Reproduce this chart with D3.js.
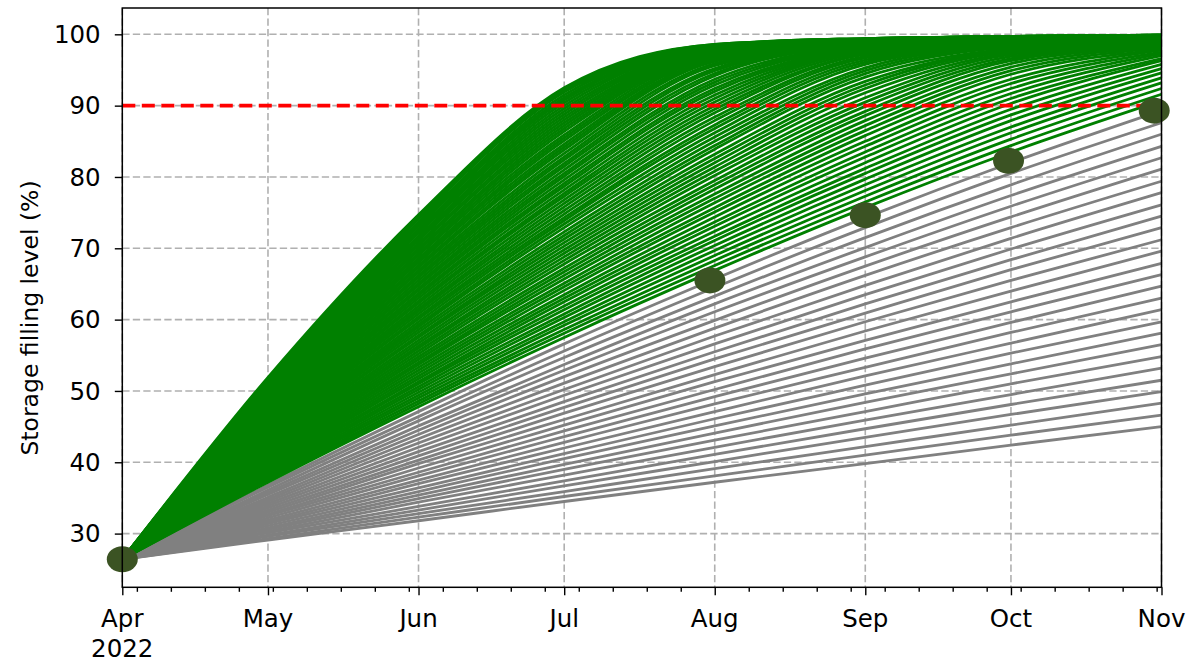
<!DOCTYPE html>
<html><head><meta charset="utf-8">
<script src="https://cdn.jsdelivr.net/npm/d3@7"></script>
<style>body{margin:0;background:#fff} svg{display:block} text{font-family:"DejaVu Sans",sans-serif;fill:#000}</style>
</head><body><svg id="c" width="1190" height="661"></svg>
<script>
// ---- data (storage filling level in %) ----
const monthDates = ["2022-04-01","2022-05-01","2022-06-01","2022-07-01","2022-08-01","2022-09-01","2022-10-01","2022-11-01"];
const monthLabels = ["Apr","May","Jun","Jul","Aug","Sep","Oct","Nov"];
const startLevel = 26.4;
// scenarios that stay below the target on 1 Nov (grey)
const greyMay = [29.1,29.3,29.6,29.8,30.1,30.3,30.6,30.8,31.1,31.4,31.6,31.9,32.2,32.5,32.7,33.0,33.3,33.6,33.9,34.2,34.5,34.8,35.1,35.5,35.8,36.1,36.5,36.8];
const greyJun = [31.8,32.3,32.8,33.3,33.8,34.4,34.9,35.4,35.9,36.4,37.0,37.5,38.1,38.6,39.2,39.8,40.3,40.9,41.5,42.1,42.7,43.3,43.9,44.5,45.1,45.8,46.4,47.1];
const greyJul = [34.5,35.2,35.9,36.7,37.4,38.2,39.0,39.7,40.5,41.2,42.0,42.8,43.6,44.4,45.2,46.0,46.9,47.7,48.5,49.4,50.2,51.1,52.0,52.9,53.7,54.7,55.6,56.6];
const greyAug = [37.2,38.1,39.1,40.1,41.1,42.1,43.1,44.1,45.1,46.1,47.1,48.2,49.2,50.2,51.3,52.3,53.4,54.5,55.5,56.6,57.7,58.8,59.9,61.1,62.2,63.3,64.5,65.7];
const greySep = [39.8,41.0,42.2,43.5,44.7,45.9,47.1,48.4,49.6,50.8,52.1,53.3,54.6,55.9,57.1,58.4,59.7,60.9,62.2,63.5,64.8,66.2,67.5,68.8,70.1,71.5,72.9,74.3];
const greyOct = [42.4,43.8,45.2,46.7,48.1,49.5,51.0,52.4,53.8,55.3,56.7,58.2,59.6,61.1,62.5,64.0,65.5,67.0,68.4,69.9,71.4,72.9,74.4,75.9,77.4,78.9,80.5,82.0];
const greyNov = [45.0,46.6,48.3,49.9,51.5,53.2,54.8,56.5,58.1,59.7,61.4,63.0,64.7,66.3,67.9,69.6,71.2,72.9,74.5,76.1,77.8,79.4,81.1,82.7,84.3,86.0,87.6,89.3];
// scenarios that reach the target by 1 Nov (green)
const greenMay = [37.2,37.4,37.6,37.8,38.0,38.2,38.4,38.6,38.8,39.0,39.2,39.4,39.6,39.8,40.0,40.2,40.4,40.6,40.9,41.1,41.3,41.5,41.7,41.9,42.1,42.3,42.5,42.7,42.9,43.1,43.3,43.5,43.7,43.9,44.1,44.3,44.5,44.7,44.9,45.1,45.3,45.5,45.7,45.9,46.1,46.3,46.5,46.7,46.9,47.1,47.3,47.5,47.7,47.9,48.1,48.3,48.4,48.6,48.8,49.0,49.2,49.4,49.6,49.8,50.0,50.2,50.4,50.6,50.8,51.0,51.2,51.4,51.5,51.7,51.9];
const greenJun = [47.8,48.2,48.6,49.0,49.4,49.8,50.2,50.6,51.0,51.3,51.7,52.1,52.5,52.9,53.3,53.7,54.0,54.4,54.8,55.2,55.6,56.0,56.3,56.7,57.1,57.5,57.8,58.2,58.6,59.0,59.3,59.7,60.1,60.4,60.8,61.2,61.5,61.9,62.3,62.6,63.0,63.4,63.7,64.1,64.4,64.8,65.1,65.5,65.9,66.2,66.6,66.9,67.3,67.6,68.0,68.3,68.6,69.0,69.3,69.7,70.0,70.4,70.7,71.1,71.4,71.7,72.1,72.4,72.7,73.1,73.4,73.7,74.1,74.4,74.7];
const greenJul = [57.5,58.1,58.6,59.2,59.7,60.3,60.8,61.4,61.9,62.5,63.0,63.5,64.1,64.6,65.1,65.7,66.2,66.7,67.2,67.8,68.3,68.8,69.3,69.8,70.3,70.8,71.3,71.8,72.3,72.9,73.4,73.9,74.3,74.8,75.3,75.8,76.3,76.8,77.3,77.7,78.2,78.7,79.1,79.6,80.1,80.5,81.0,81.5,81.9,82.4,82.8,83.3,83.8,84.2,84.6,85.1,85.5,85.9,86.4,86.8,87.2,87.6,88.0,88.4,88.8,89.2,89.6,90.0,90.4,90.8,91.1,91.5,91.9,92.2,92.5];
const greenAug = [66.9,67.6,68.3,69.0,69.7,70.4,71.1,71.7,72.4,73.1,73.7,74.4,75.1,75.7,76.4,77.0,77.6,78.3,78.9,79.5,80.2,80.8,81.4,82.0,82.6,83.2,83.9,84.4,85.0,85.6,86.2,86.8,87.3,87.9,88.4,89.0,89.5,90.0,90.5,91.0,91.5,92.0,92.4,92.9,93.3,93.7,94.2,94.5,94.9,95.2,95.6,95.9,96.2,96.4,96.6,96.8,97.0,97.2,97.3,97.5,97.6,97.7,97.8,97.9,98.0,98.1,98.2,98.3,98.3,98.4,98.4,98.5,98.5,98.6,98.6];
const greenSep = [75.7,76.5,77.3,78.1,78.9,79.7,80.5,81.2,82.0,82.8,83.5,84.3,85.0,85.8,86.5,87.2,87.9,88.6,89.2,89.9,90.5,91.1,91.8,92.4,92.9,93.4,94.0,94.5,94.9,95.3,95.8,96.1,96.4,96.7,96.9,97.2,97.3,97.5,97.7,97.8,97.9,98.0,98.1,98.2,98.3,98.4,98.5,98.5,98.6,98.7,98.7,98.8,98.8,98.9,98.9,98.9,99.0,99.0,99.0,99.1,99.1,99.1,99.2,99.2,99.2,99.2,99.3,99.3,99.3,99.3,99.3,99.4,99.4,99.4,99.4];
const greenOct = [83.5,84.4,85.3,86.2,87.0,87.9,88.7,89.5,90.3,91.0,91.7,92.4,93.1,93.7,94.4,94.9,95.4,95.9,96.3,96.6,96.9,97.2,97.4,97.6,97.8,97.9,98.0,98.2,98.3,98.4,98.5,98.5,98.6,98.7,98.7,98.8,98.9,98.9,99.0,99.0,99.0,99.1,99.1,99.1,99.2,99.2,99.2,99.3,99.3,99.3,99.3,99.4,99.4,99.4,99.4,99.5,99.5,99.5,99.5,99.5,99.5,99.6,99.6,99.6,99.6,99.6,99.6,99.7,99.7,99.7,99.7,99.7,99.7,99.7,99.7];
const greenNov = [90.7,91.6,92.4,93.2,93.9,94.6,95.2,95.8,96.3,96.6,97.0,97.3,97.5,97.8,97.9,98.1,98.2,98.3,98.4,98.5,98.6,98.7,98.8,98.8,98.9,99.0,99.0,99.0,99.1,99.1,99.2,99.2,99.2,99.3,99.3,99.3,99.4,99.4,99.4,99.4,99.5,99.5,99.5,99.5,99.5,99.6,99.6,99.6,99.6,99.6,99.7,99.7,99.7,99.7,99.7,99.7,99.7,99.8,99.8,99.8,99.8,99.8,99.8,99.8,99.8,99.8,99.8,99.8,99.9,99.9,99.9,99.9,99.9,99.9,99.9];
// observed filling levels
const markerDates = ["2022-04-01T00:00","2022-07-31T00:00","2022-09-01T00:00","2022-09-30T12:00","2022-10-30T12:00"];
const markerValues = [26.4, 65.5, 74.65, 82.27, 89.3];
const targetLevel = 90;
const yTicks = [30,40,50,60,70,80,90,100];

// ---- drawing ----
const svg = d3.select("#c");
const L = 122.3, R = 1161.5, T = 8, B = 587.3;
const parseDay = d3.utcParse("%Y-%m-%d");
const parseTime = d3.utcParse("%Y-%m-%dT%H:%M");
const start = parseDay(monthDates[0]), end = parseDay(monthDates[monthDates.length-1]);
const x = d3.scaleUtc().domain([start,end]).range([L,R]);
const y = d3.scaleLinear().domain([22.47,103.69]).range([B,T]);

svg.append("defs").append("clipPath").attr("id","clip").append("rect")
  .attr("x",L).attr("y",T).attr("width",R-L).attr("height",B-T);

const months = monthDates.map(parseDay);
const mondays = d3.utcMonday.range(start, end).filter(d => d.getUTCDate() !== 1);

// grid
const g = svg.append("g");
g.selectAll(".vg").data(months).join("line")
  .attr("x1",d=>x(d)).attr("x2",d=>x(d)).attr("y1",T).attr("y2",B)
  .attr("stroke","#b0b0b0").attr("stroke-width",1.6).attr("stroke-dasharray","7.3,3.2");
g.selectAll(".hg").data(yTicks).join("line")
  .attr("x1",L).attr("x2",R).attr("y1",d=>y(d)).attr("y2",d=>y(d))
  .attr("stroke","#b0b0b0").attr("stroke-width",1.6).attr("stroke-dasharray","7.3,3.2");

// scenario lines
const lineGen = d3.line().x(d=>x(d[0])).y(d=>y(d[1])).curve(d3.curveMonotoneX);
function series(cols, i){ return months.map((d,k)=>[d, k===0 ? startLevel : cols[k-1][i]]); }
const greyCols = [greyMay,greyJun,greyJul,greyAug,greySep,greyOct,greyNov];
const greenCols = [greenMay,greenJun,greenJul,greenAug,greenSep,greenOct,greenNov];
const lg = svg.append("g").attr("clip-path","url(#clip)");
lg.selectAll("path.grey").data(greyNov.map((_,i)=>series(greyCols,i))).join("path")
  .attr("class","grey").attr("d",lineGen).attr("fill","none").attr("stroke","#808080").attr("stroke-width",2.8);
lg.selectAll("path.green").data(greenNov.map((_,i)=>series(greenCols,i))).join("path")
  .attr("class","green").attr("d",lineGen).attr("fill","none").attr("stroke","#008000").attr("stroke-width",2.8);

// target line
svg.append("line").attr("x1",L).attr("x2",R).attr("y1",y(targetLevel)).attr("y2",y(targetLevel))
  .attr("stroke","#ff0000").attr("stroke-width",3.6).attr("stroke-dasharray","13,6.5");

// markers
svg.append("g").selectAll("ellipse").data(markerDates.map((d,i)=>[parseTime(d),markerValues[i]])).join("ellipse")
  .attr("cx",d=>x(d[0])).attr("cy",d=>y(d[1])).attr("rx",15.5).attr("ry",13).attr("fill","#3b5323");

// frame
svg.append("rect").attr("x",L).attr("y",T).attr("width",R-L).attr("height",B-T)
  .attr("fill","none").attr("stroke","#000").attr("stroke-width",1.5);

// x axis
const xa = svg.append("g").attr("transform",`translate(0,${B})`);
xa.call(d3.axisBottom(x).tickValues(months).tickSize(8).tickFormat(""));
xa.append("g").call(d3.axisBottom(x).tickValues(mondays).tickSize(4.5).tickFormat(""));
xa.selectAll(".domain").remove();
xa.selectAll("line").attr("stroke","#000").attr("stroke-width",1.4);
months.forEach((d,i) => {
  svg.append("text").attr("x",x(d)).attr("y",626.5).attr("text-anchor","middle")
    .attr("font-size",24.5).text(monthLabels[i]);
  if (i===0) svg.append("text").attr("x",x(d)).attr("y",656.5).attr("text-anchor","middle")
    .attr("font-size",24.5).text("2022");
});

// y axis
const ya = svg.append("g").attr("transform",`translate(${L},0)`);
ya.call(d3.axisLeft(y).tickValues(yTicks).tickSize(7.5).tickFormat(""));
ya.selectAll(".domain").remove();
ya.selectAll("line").attr("stroke","#000").attr("stroke-width",1.4);
yTicks.forEach(v => svg.append("text").attr("x",100.7).attr("y",y(v)).attr("dy","0.36em")
  .attr("text-anchor","end").attr("font-size",24.5).text(v));
svg.append("text").attr("transform",`translate(37.5,318) rotate(-90)`)
  .attr("text-anchor","middle").attr("font-size",23.5).text("Storage filling level (%)");
</script></body></html>
